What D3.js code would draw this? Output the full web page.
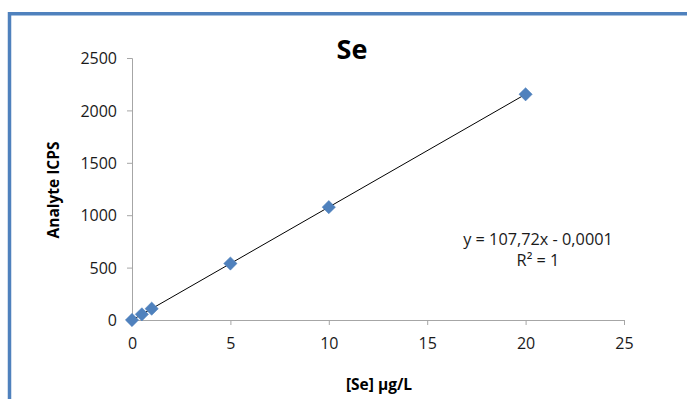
<!DOCTYPE html>
<html><head><meta charset="utf-8">
<script src="https://cdn.jsdelivr.net/npm/d3@7"></script>
<style>html,body{margin:0;padding:0;background:#fff;}svg{display:block;}</style>
</head><body>
<script>
const title = "Se";
const xTitle = "[Se] µg/L";
const yTitle = "Analyte ICPS";
const concentrations = [0, 0.5, 1, 5, 10, 20];
const icps = [0, 54, 108, 539, 1077, 2154];
const xTicks = [0, 5, 10, 15, 20, 25];
const yTicks = [0, 500, 1000, 1500, 2000, 2500];
const slope = 107.72, intercept = -0.0001;
const equationLines = ["y = 107,72x - 0,0001", "R² = 1"];

const W = 687, H = 399;
const font = "'Open Sans', sans-serif";
const svg = d3.select("body").append("svg").attr("width", W).attr("height", H);

// chart frame
svg.append("path").attr("d", `M9.5,${H+5} L9.5,13.7 L${W+5},13.7`)
  .attr("fill", "none").attr("stroke", "#4f81bd").attr("stroke-width", 3.5);

const x = d3.scaleLinear().domain([0, 25]).range([132, 624]);
const y = d3.scaleLinear().domain([0, 2500]).range([320, 58]);

const gx = svg.append("g").attr("transform", "translate(0,320)")
  .call(d3.axisBottom(x).tickValues(xTicks).tickFormat(d3.format("d")).tickSize(5).tickPadding(13));
const gy = svg.append("g").attr("transform", "translate(132,0)")
  .call(d3.axisLeft(y).tickValues(yTicks).tickFormat(d3.format("d")).tickSize(5).tickPadding(10));
[gx, gy].forEach(g => {
  g.select(".domain").attr("stroke", "#a6a6a6").attr("stroke-width", 1);
  g.selectAll(".tick line").attr("stroke", "#a6a6a6");
  g.selectAll(".tick text").attr("fill", "#1a1a1a").style("font-family", font).style("font-size", "16px");
});
gy.selectAll(".tick text").attr("dy", "0.35em");

// trend line
svg.append("line")
  .attr("x1", x(0)).attr("y1", y(slope * 0 + intercept))
  .attr("x2", x(20)).attr("y2", y(slope * 20 + intercept))
  .attr("stroke", "#000").attr("stroke-width", 1);

// markers (square rotated 45°)
svg.append("g").selectAll("path").data(concentrations).join("path")
  .attr("d", d3.symbol(d3.symbolSquare, 88)())
  .attr("transform", (d, i) => `translate(${x(d)},${y(icps[i])}) rotate(45)`)
  .attr("fill", "#4f81bd").attr("stroke", "#4a7ebb").attr("stroke-width", 0.5);

// title
svg.append("text").attr("x", 352).attr("y", 59).attr("text-anchor", "middle")
  .style("font-family", font).style("font-weight", "bold").style("font-size", "27px")
  .attr("fill", "#000").text(title);

// axis titles
svg.append("text").attr("transform", "translate(59,190) rotate(-90)").attr("text-anchor", "middle")
  .style("font-family", font).style("font-weight", "bold").style("font-size", "15.5px")
  .attr("fill", "#000").text(yTitle);
svg.append("text").attr("x", 379).attr("y", 390).attr("text-anchor", "middle")
  .style("font-family", font).style("font-weight", "bold").style("font-size", "15.5px")
  .attr("fill", "#000").text(xTitle);

// equation
svg.append("g").selectAll("text").data(equationLines).join("text")
  .attr("x", 538).attr("y", (d, i) => 245 + i * 21).attr("text-anchor", "middle")
  .style("font-family", font).style("font-size", "16.3px").attr("fill", "#1a1a1a")
  .text(d => d);
</script>
</body></html>
